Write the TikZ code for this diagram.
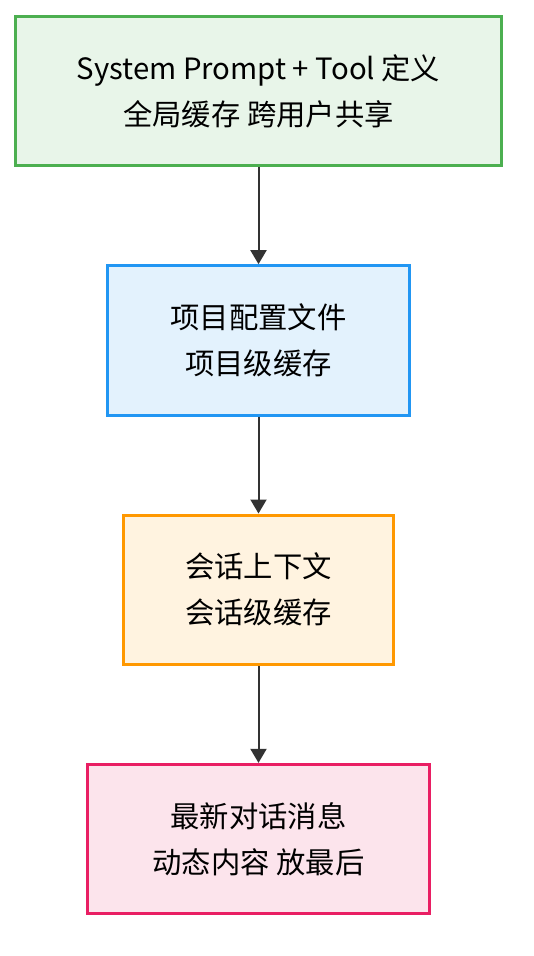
\documentclass[tikz,border=0pt]{standalone}
\usepackage{fontspec}
\setmainfont{Noto Sans CJK SC}
\usetikzlibrary{arrows.meta,positioning}

\definecolor{greenfill}{HTML}{E8F5E9}
\definecolor{greenline}{HTML}{4CAF50}
\definecolor{bluefill}{HTML}{E3F2FD}
\definecolor{blueline}{HTML}{2196F3}
\definecolor{orangefill}{HTML}{FFF3E0}
\definecolor{orangeline}{HTML}{FF9800}
\definecolor{pinkfill}{HTML}{FCE4EC}
\definecolor{pinkline}{HTML}{E91E63}
\definecolor{arrowgrey}{HTML}{333333}

\begin{document}
\begin{tikzpicture}[x=0.75pt,y=-0.75pt,>={Triangle[length=10.5pt,width=12pt]},
    layer/.style={draw,line width=2.25pt,align=center,minimum height=112pt,
      font=\fontsize{22}{34.5}\selectfont,inner sep=0pt},
    flow/.style={->,draw=arrowgrey,fill=arrowgrey,line width=1.5pt},
    node distance=72.75pt]
  \useasboundingbox (0,0) rectangle (534,956);
  \node[layer,fill=greenfill,draw=greenline,minimum width=364.5pt] (global) at (258.5,91)
    {System Prompt + Tool 定义\\全局缓存 跨用户共享};
  \node[layer,fill=bluefill,draw=blueline,minimum width=226pt,below=of global] (project)
    {项目配置文件\\项目级缓存};
  \node[layer,fill=orangefill,draw=orangeline,minimum width=203pt,below=of project] (session)
    {会话上下文\\会话级缓存};
  \node[layer,fill=pinkfill,draw=pinkline,minimum width=257pt,below=of session] (latest)
    {最新对话消息\\动态内容 放最后};
  % connectors
  \draw[flow] (global) -- (project);
  \draw[flow] (project) -- (session);
  \draw[flow] (session) -- (latest);
\end{tikzpicture}
\end{document}
